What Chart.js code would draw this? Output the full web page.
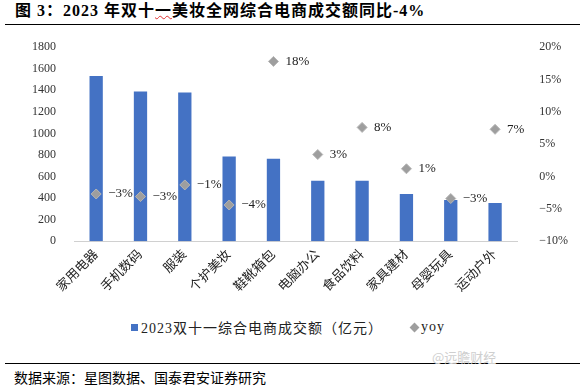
<!DOCTYPE html>
<html>
<head>
<meta charset="utf-8">
<script src="https://cdn.jsdelivr.net/npm/chart.js@4/dist/chart.umd.min.js"></script>
<style>
  body { margin: 0; width: 585px; height: 387px; background: #fff; position: relative; overflow: hidden;
         font-family: "Liberation Serif", "Noto Sans CJK SC", serif; }
  #title { position: absolute; left: 15px; top: 0px; line-height: 22px; font-size: 16px; letter-spacing: 1px; font-weight: bold; color: #000; white-space: nowrap; }
  #title .wavy { text-decoration: underline wavy #e03030; text-decoration-thickness: 1px; text-underline-offset: -1px; }
  .rule { position: absolute; left: 5px; width: 575px; height: 1px; background: #000; }
  #src { position: absolute; left: 14px; top: 367px; font-size: 14px; color: #000; white-space: nowrap; }
  #wm { position: absolute; left: 432px; top: 347px; font-size: 13px; color: #cfcfcf; font-family: "Noto Sans CJK SC", sans-serif; }
  #box { position: absolute; left: 0; top: 26px; width: 585px; height: 282px; }
  #legend { position: absolute; top: 317px; left: 131px; font-size: 14px; letter-spacing: 1px; color: #222; white-space: nowrap; }
  #legend span { display: inline-block; vertical-align: middle; }
  .sq { width: 7px; height: 7px; background: #4472C4; margin-right: 3px; }
  .dm { width: 7px; height: 7px; background: #9e9e9e; transform: rotate(45deg); margin: 0 3px 0 28px; }
</style>
</head>
<body>
<div id="title">图 3：2023 年双十<span class="wavy">一</span>美妆全网综合电商成交额同比-4%</div>
<div class="rule" style="top:24px"></div>
<div id="box"><canvas id="c"></canvas></div>
<div id="legend"><span class="sq"></span><span id="l0"></span><span class="dm"></span><span id="l1"></span></div>
<div class="rule" style="top:363px"></div>
<div id="src">数据来源：星图数据、国泰君安证券研究</div>
<div id="wm">@远瞻财经</div>
<script>
// categories and values
const categories = ['家用电器', '手机数码', '服装', '个护美妆', '鞋靴箱包', '电脑办公', '食品饮料', '家具建材', '母婴玩具', '运动户外'];
const gmv = [1532, 1390, 1380, 785, 765, 560, 560, 438, 382, 354];
const yoy = [-2.7, -3.1, -1.3, -4.4, 17.8, 3.4, 7.6, 1.2, -3.4, 7.3];
const leftTicks = { min: 0, max: 1800, step: 200 };
const rightTicks = { min: -10, max: 20, step: 5 };
const seriesNames = ['2023双十一综合电商成交额（亿元）', 'yoy'];

const fmtPct = v => (v < 0 ? '\u2212' : '') + Math.abs(v) + '%';
const serif = '"Liberation Serif", "Noto Sans CJK SC", serif';

document.getElementById('l0').textContent = seriesNames[0];
document.getElementById('l1').textContent = seriesNames[1];

// small plugin to write the yoy labels next to the diamonds
const yoyLabels = {
  id: 'yoyLabels',
  afterDatasetsDraw(chart) {
    const ctx = chart.ctx;
    const meta = chart.getDatasetMeta(1);
    ctx.save();
    ctx.font = '13px ' + serif;
    ctx.fillStyle = '#222';
    ctx.textAlign = 'left';
    ctx.textBaseline = 'middle';
    meta.data.forEach((pt, i) => {
      ctx.fillText(fmtPct(Math.round(yoy[i])), pt.x + 12, pt.y);
    });
    ctx.restore();
  }
};

new Chart(document.getElementById('c'), {
  data: {
    labels: categories,
    datasets: [
      {
        type: 'bar',
        label: seriesNames[0],
        data: gmv,
        backgroundColor: '#4472C4',
        barPercentage: 0.3,
        categoryPercentage: 1,
        yAxisID: 'y',
        order: 2
      },
      {
        type: 'line',
        label: seriesNames[1],
        data: yoy,
        showLine: false,
        pointStyle: 'rectRot',
        pointRadius: 5,
        backgroundColor: '#9e9e9e',
        borderColor: '#b5b5b5',
        borderWidth: 1,
        yAxisID: 'y1',
        order: 1
      }
    ]
  },
  options: {
    responsive: true,
    maintainAspectRatio: false,
    animation: false,
    layout: { padding: { left: 22, right: 3, top: 6, bottom: 7 } },
    plugins: {
      tooltip: { enabled: false },
      legend: { display: false }
    },
    scales: {
      x: {
        grid: { display: false, drawTicks: false },
        border: { color: '#d0d0d0' },
        ticks: {
          color: '#222',
          font: { family: serif, size: 13 },
          minRotation: 45,
          maxRotation: 45,
          padding: 6
        }
      },
      y: {
        position: 'left',
        min: leftTicks.min,
        max: leftTicks.max,
        grid: { display: false },
        border: { display: false },
        ticks: {
          stepSize: leftTicks.step,
          autoSkip: false,
          color: '#333',
          font: { family: serif, size: 12 },
          padding: 10,
          callback: v => String(v)
        }
      },
      y1: {
        position: 'right',
        min: rightTicks.min,
        max: rightTicks.max,
        grid: { display: false },
        border: { display: false },
        ticks: {
          stepSize: rightTicks.step,
          autoSkip: false,
          color: '#333',
          font: { family: serif, size: 12 },
          padding: 14,
          callback: v => fmtPct(v)
        }
      }
    }
  },
  plugins: [yoyLabels]
});
</script>
</body>
</html>
